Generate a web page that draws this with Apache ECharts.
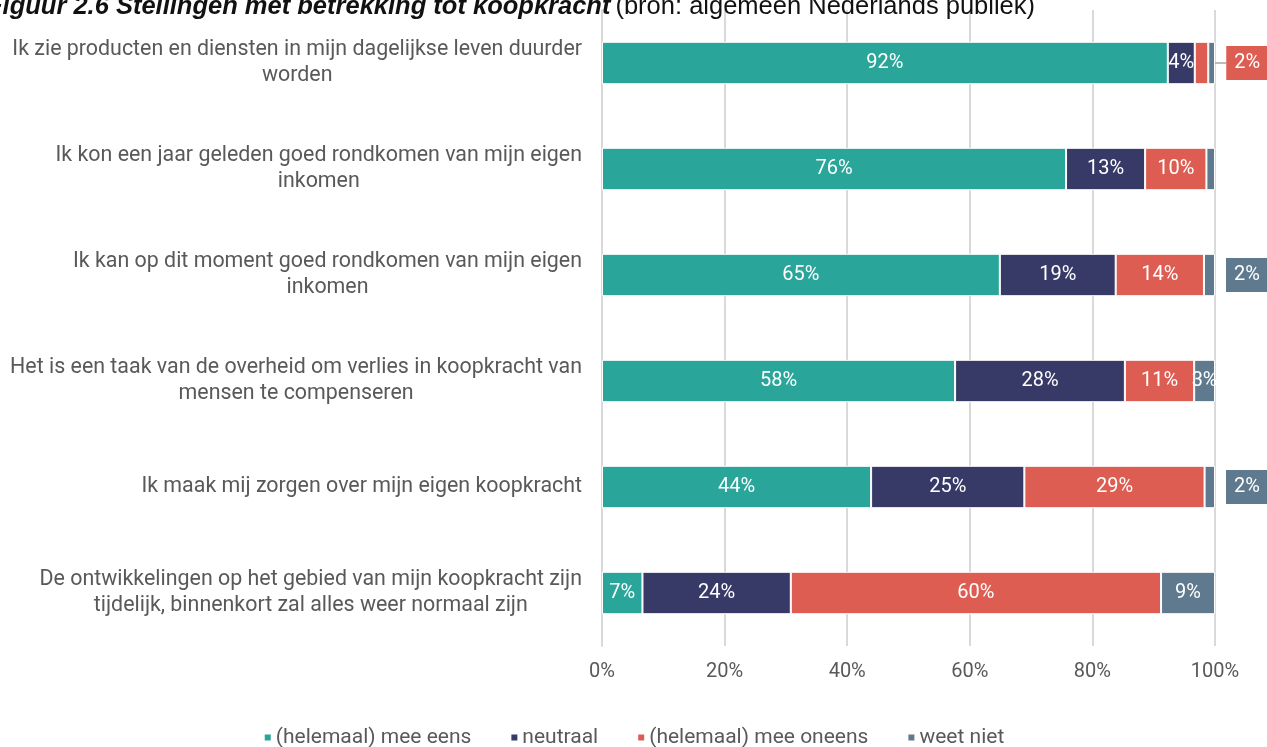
<!DOCTYPE html>
<html>
<head>
<meta charset="utf-8">
<script src="https://cdn.jsdelivr.net/npm/echarts@6/dist/echarts.min.js"></script>
<style>
  html, body { margin: 0; padding: 0; background: #fff; }
  #main { width: 1267px; height: 747px; }
</style>
</head>
<body>
<div id="main"></div>
<script>
  // stellingen, van boven naar beneden
  var categories = [
    'Ik zie producten en diensten in mijn dagelijkse leven duurder\nworden',
    'Ik kon een jaar geleden goed rondkomen van mijn eigen\ninkomen',
    'Ik kan op dit moment goed rondkomen van mijn eigen\ninkomen',
    'Het is een taak van de overheid om verlies in koopkracht van\nmensen te compenseren',
    'Ik maak mij zorgen over mijn eigen koopkracht',
    'De ontwikkelingen op het gebied van mijn koopkracht zijn\ntijdelijk, binnenkort zal alles weer normaal zijn'
  ];
  var seriesNames = ['(helemaal) mee eens', 'neutraal', '(helemaal) mee oneens', 'weet niet'];
  var eens     = [92.3, 75.7, 64.9, 57.6, 43.9, 6.6];
  var neutraal = [4.4, 12.9, 18.9, 27.7, 25.0, 24.2];
  var oneens   = [2.2, 10.0, 14.4, 11.3, 29.4, 60.4];
  var weetNiet = [1.1, 1.4, 1.8, 3.4, 1.7, 8.8];
  var xTicks = [0, 20, 40, 60, 80, 100];

  var colors = ['#2AA59A', '#373A67', '#DE5D52', '#5F7A8E'];
  var font = 'Roboto';

  // kleine waarden: label naast de balk (index per reeks)
  var outside = { 2: [0], 3: [2, 4] };
  var hidden = { 3: [0, 1] };

  function buildData(values, si) {
    // omgekeerd zodat de eerste stelling bovenaan staat
    return values.slice().reverse().map(function (v, ri) {
      var idx = values.length - 1 - ri;
      var item = { value: v };
      if (hidden[si] && hidden[si].indexOf(idx) >= 0) {
        item.label = { show: false };
      } else if (outside[si] && outside[si].indexOf(idx) >= 0) {
        item.label = {
          show: true,
          position: 'right',
          distance: si === 2 ? 0 : 11,
          backgroundColor: colors[si],
          padding: [7, 8, 7, 8]
        };
      }
      return item;
    });
  }

  var all = [eens, neutraal, oneens, weetNiet];
  var series = all.map(function (vals, si) {
    var s = {
      name: seriesNames[si],
      type: 'bar',
      stack: 'totaal',
      barWidth: '40%',
      data: buildData(vals, si),
      itemStyle: { color: colors[si], borderColor: '#fff', borderWidth: 1 },
      label: {
        show: true,
        position: 'inside',
        color: '#fff',
        fontFamily: font,
        fontSize: 20,
        formatter: function (p) { return Math.round(p.value) + '%'; }
      }
    };
    if (si === 2) {
      s.labelLine = { show: true, lineStyle: { color: '#A6A6A6', width: 1.5 } };
      s.labelLayout = function (p) {
        if (p.dataIndex === all[2].length - 1) return { dx: 18 };
        return {};
      };
    }
    return s;
  });

  var chart = echarts.init(document.getElementById('main'));
  chart.setOption({
    animation: false,
    color: colors,
    title: {
      text: '{b|Figuur 2.6 Stellingen met betrekking tot koopkracht} {n|(bron: algemeen Nederlands publiek)}',
      left: -18,
      top: -11,
      textStyle: {
        rich: {
          b: { fontFamily: 'Liberation Sans', fontSize: 25.5, fontWeight: 'bold', fontStyle: 'italic', color: '#111' },
          n: { fontFamily: 'Liberation Sans', fontSize: 25.5, fontWeight: 'normal', color: '#111' }
        }
      }
    },
    legend: {
      data: seriesNames,
      bottom: -6,
      left: 'center',
      icon: 'rect',
      itemWidth: 8,
      itemHeight: 8,
      itemGap: 38,
      textStyle: { fontFamily: font, fontSize: 21, color: '#595959', padding: [0, 0, 0, -1] }
    },
    grid: { left: 602, right: 52, top: 10, bottom: 101, containLabel: false },
    xAxis: {
      type: 'value',
      min: 0,
      max: 100,
      interval: 20,
      axisLabel: {
        fontFamily: font,
        fontSize: 20,
        color: '#595959',
        margin: 16,
        formatter: function (v) { return xTicks.indexOf(v) >= 0 ? v + '%' : ''; }
      },
      splitLine: { lineStyle: { color: '#D9D9D9', width: 2 } },
      axisLine: { show: false },
      axisTick: { show: false }
    },
    yAxis: {
      type: 'category',
      data: categories.slice().reverse(),
      axisLine: { show: true, lineStyle: { color: '#D9D9D9', width: 2 } },
      axisTick: { show: false },
      axisLabel: {
        margin: 20,
        formatter: function (v) {
          return v.split('\n').map(function (l) { return '{c|' + l + '}'; }).join('\n');
        },
        rich: {
          c: { align: 'center', fontFamily: font, fontSize: 21.4, color: '#595959', lineHeight: 26 }
        }
      }
    },
    series: series
  });
</script>
</body>
</html>
